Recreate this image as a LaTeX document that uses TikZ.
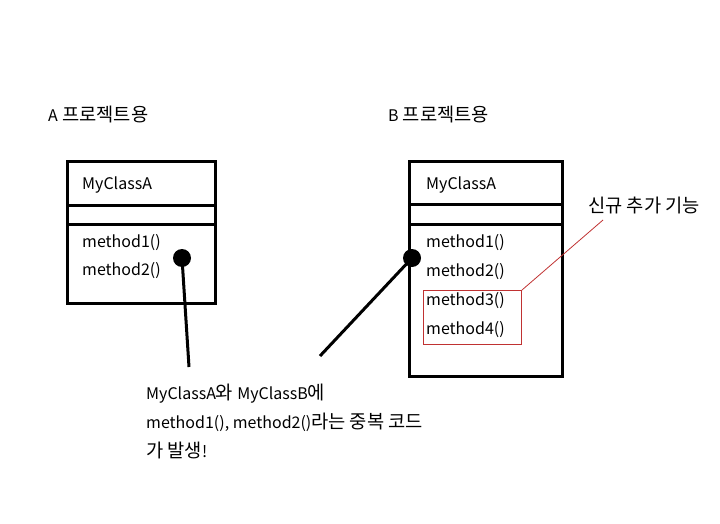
\documentclass[tikz,border=0pt]{standalone}
\usepackage{fontspec}
\setmainfont{Noto Sans CJK KR}
\newfontfamily\kr[Scale=1.17]{Noto Sans CJK KR}
\usetikzlibrary{positioning}
\definecolor{newred}{RGB}{192,50,50}

\begin{document}
\begin{tikzpicture}[x=1pt, y=-1pt, every node/.style={font=\fontsize{16}{19}\selectfont, inner sep=0pt, anchor=west},
  dot/.style={circle, fill, minimum size=18pt, anchor=center}]
\useasboundingbox (0,0) rectangle (720,524);
% Project titles
\node (titleA) at (48,114) {A{\kr\ 프로젝트용}};
\node (titleB) at (388,114) {B{\kr\ 프로젝트용}};
% Class box A
\draw[line width=3pt] (67,161) rectangle (215,303);
\draw[line width=3pt] (67,205) -- (215,205);
\draw[line width=3pt] (67,224) -- (215,224);
\node (nameA) at (82,185) {MyClassA};
\node (mA1) at (82,243) {method1()};
\node (mA2) at (82,271) {method2()};
% Class box B
\draw[line width=3pt] (409,161) rectangle (562,376);
\draw[line width=3pt] (409,204) -- (562,204);
\draw[line width=3pt] (409,224) -- (562,224);
\node (nameB) at (426,185) {MyClassA};
\node (mB1) at (426,243) {method1()};
\node (mB2) at (426,272) {method2()};
\node[draw=newred, line width=1pt, minimum width=98pt, minimum height=54pt, anchor=north west] (newbox) at (423,290) {};
\node (mB3) at (426,301) {method3()};
\node (mB4) at (426,330) {method4()};
% New feature note
\node (newlbl) at (588,205) {\kr 신규 추가 기능};
\coordinate (tipN) at (603,220);
\draw[newred, line width=0.8pt] (newbox.north east) -- (tipN);
% Duplicate markers
\node[dot] (dotA) at (182,258) {};
\node[dot] (dotB) at (412,258) {};
\coordinate (endA) at (189,367);
\coordinate (endB) at (320,356);
\draw[line width=3pt] (dotA.center) -- (endA);
\draw[line width=3pt] (dotB.center) -- (endB);
% Note
\node (dupnote) at (146,394) {MyClassA{\kr 와\ }MyClassB{\kr 에}};
\node (dupnote2) at (146,422) {method1(), method2(){\kr 라는 중복 코드}};
\node (dupnote3) at (146,450) {{\kr 가 발생}!};
\end{tikzpicture}
\end{document}
